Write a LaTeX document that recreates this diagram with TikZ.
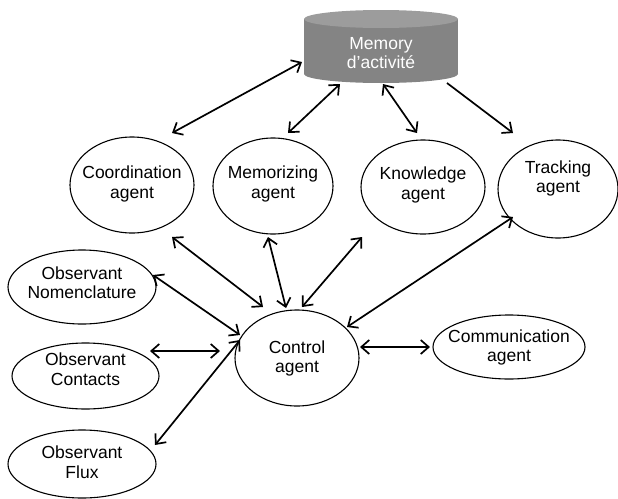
\documentclass[tikz,border=0pt]{standalone}
\usepackage{fontspec}
\setmainfont{Liberation Sans}
\usetikzlibrary{shapes.geometric,arrows.meta,calc}
\definecolor{cylbody}{HTML}{848484}
\definecolor{cyltop}{HTML}{9C9C9C}
\begin{document}
\begin{tikzpicture}[x=1pt,y=-1pt,
  agent/.style={ellipse,draw,line width=1.1pt,inner sep=0pt},
  lbl/.style={align=center,font=\fontsize{17.5}{19.5}\selectfont,inner sep=0pt},
  tip/.tip={Straight Barb[length=8pt,width=14pt]},
  bi/.style={line width=1.7pt,tip-tip},
  uni/.style={line width=1.7pt,-tip}]
\useasboundingbox (0,0) rectangle (618,498);

% cylinder "Memory d'activité"
\fill[cylbody] (304,19) rectangle (458,74);
\fill[cylbody] (381,74) ellipse [x radius=77pt, y radius=9pt];
\fill[cyltop] (381,19) ellipse [x radius=77pt, y radius=9pt];
\node[minimum width=154pt,minimum height=73pt,inner sep=0pt] (mem) at (381,46.5) {};
\node[lbl,text=white] (memt) at (381,53) {Memory\\d’activité};

% agents
\node[agent,minimum width=124pt,minimum height=96pt] (coord) at (132,185) {};
\node[lbl] (coordt) at (132,184) {Coordination\\agent};
\node[agent,minimum width=120pt,minimum height=96pt] (memz) at (273,186) {};
\node[lbl] (memzt) at (273,184) {Memorizing\\agent};
\node[agent,minimum width=124pt,minimum height=94pt] (know) at (423,187) {};
\node[lbl] (knowt) at (423,185) {Knowledge\\agent};
\node[agent,minimum width=120pt,minimum height=98pt] (track) at (558,189) {};
\node[lbl] (trackt) at (558,178.5) {Tracking\\agent};
\node[agent,minimum width=148pt,minimum height=74pt] (nom) at (82,287) {};
\node[lbl] (nomt) at (82,282.5) {Observant\\Nomenclature};
\node[agent,minimum width=147pt,minimum height=66pt] (cont) at (85.5,376) {};
\node[lbl] (contt) at (85.5,369) {Observant\\Contacts};
\node[agent,minimum width=148pt,minimum height=68pt] (flux) at (82,464) {};
\node[lbl] (fluxt) at (82,462) {Observant\\Flux};
\node[agent,minimum width=124pt,minimum height=96pt] (ctrl) at (297,358) {};
\node[lbl] (ctrlt) at (297,358.5) {Control\\agent};
\node[agent,minimum width=152pt,minimum height=64pt] (comm) at (509,347) {};
\node[lbl] (commt) at (509,347.5) {Communication\\agent};

% connectors to memory
\draw[bi] ($(coord)+(40,-52)$) -- ($(mem)+(-79,15.5)$);
\draw[bi] ($(memz)+(15,-53)$) -- ($(mem)+(-41,37.5)$);
\draw[bi] ($(know)+(-6,-54)$) -- ($(mem)+(2,37.5)$);
\draw[uni] ($(mem)+(66,36.5)$) -- ($(track)+(-45,-56)$);

% connectors to control agent
\draw[bi] ($(coord)+(40,52)$) -- ($(ctrl)+(-34,-51)$);
\draw[bi] ($(memz)+(-5,51)$) -- ($(ctrl)+(-11,-50)$);
\draw[bi] ($(know)+(-61,50)$) -- ($(ctrl)+(5,-51)$);
\draw[bi] ($(track)+(-45,28)$) -- ($(ctrl)+(50,-31)$);
\draw[bi] ($(nom)+(71,-12)$) -- ($(ctrl)+(-57,-23)$);
\draw[bi] ($(cont)+(64.5,-25)$) -- ($(ctrl)+(-77,-7)$);
\draw[bi] ($(flux)+(73,-19)$) -- ($(ctrl)+(-57,-18)$);
\draw[bi] ($(ctrl)+(63,-11)$) -- ($(comm)+(-79,0)$);
\end{tikzpicture}
\end{document}
